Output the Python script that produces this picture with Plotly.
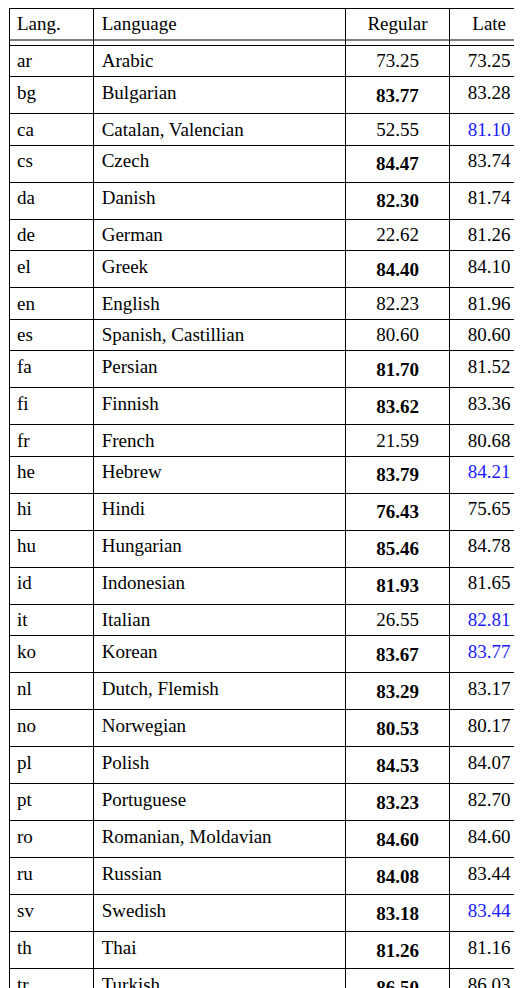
import plotly.graph_objects as go

codes = ["ar","bg","ca","cs","da","de","el","en","es","fa","fi","fr","he","hi","hu","id","it","ko","nl","no","pl","pt","ro","ru","sv","th","tr","uk","vi","zh"]
languages = ["Arabic","Bulgarian","Catalan, Valencian","Czech","Danish","German","Greek","English","Spanish, Castillian","Persian","Finnish","French","Hebrew","Hindi","Hungarian","Indonesian","Italian","Korean","Dutch, Flemish","Norwegian","Polish","Portuguese","Romanian, Moldavian","Russian","Swedish","Thai","Turkish","Ukrainian","Vietnamese","Chinese"]
regular = [73.25,83.77,52.55,84.47,82.30,22.62,84.40,82.23,80.60,81.70,83.62,21.59,83.79,76.43,85.46,81.93,26.55,83.67,83.29,80.53,84.53,83.23,84.60,84.08,83.18,81.26,86.50,83.12,80.34,81.25]
late = [73.25,83.28,81.10,83.74,81.74,81.26,84.10,81.96,80.60,81.52,83.36,80.68,84.21,75.65,84.78,81.65,82.81,83.77,83.17,80.17,84.07,82.70,84.60,83.44,83.44,81.16,86.03,82.61,80.42,80.60]
bold_regular = ["bg","cs","da","el","fa","fi","he","hi","hu","id","ko","nl","no","pl","pt","ro","ru","sv","th","tr","uk","vi","zh"]
blue_late = ["ca","he","it","ko","sv","vi"]
headers = ["Lang.","Language","Regular","Late"]

reg_txt = [f"<b>{v:.2f}</b>" if c in bold_regular else f"{v:.2f}" for c, v in zip(codes, regular)]
late_txt = [f"{v:.2f}" for v in late]
late_col = ["#1a1aff" if c in blue_late else "black" for c in codes]
n = len(codes)

H = 988
fig = go.Figure(go.Table(
    columnwidth=[85, 253, 104, 80],
    header=dict(values=headers, height=37, align=["left","left","center","center"],
                font=dict(family="Liberation Serif", size=19, color="black"),
                line=dict(color="black", width=1), fill=dict(color="white")),
    cells=dict(values=[codes, languages, reg_txt, late_txt], height=31.5,
               align=["left","left","center","center"],
               font=dict(family="Liberation Serif", size=19,
                         color=[["black"]*n, ["black"]*n, ["black"]*n, late_col]),
               line=dict(color="black", width=1), fill=dict(color="white")),
    domain=dict(x=[0, 1], y=[0, 1]),
))
fig.add_shape(type="line", xref="paper", yref="paper", x0=0, x1=1,
              y0=1-32/H, y1=1-32/H, line=dict(color="black", width=1))
fig.update_layout(width=522, height=H, margin=dict(l=1, r=1, t=0, b=0),
                  paper_bgcolor="white")
fig.write_html("out.html")
